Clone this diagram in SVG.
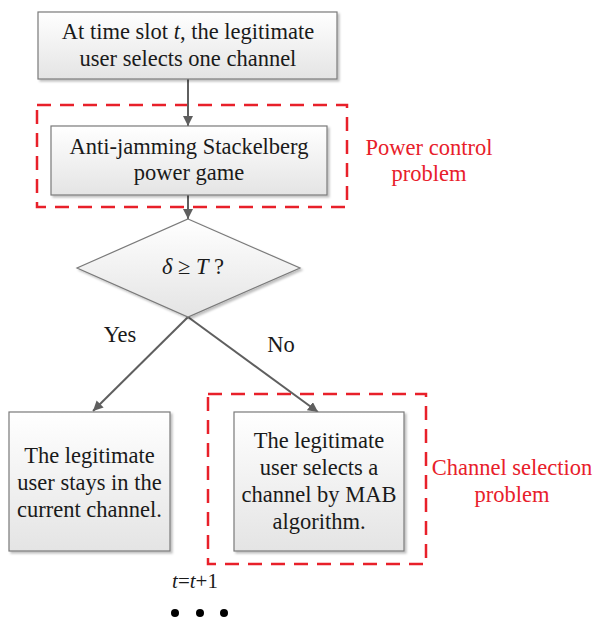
<svg xmlns="http://www.w3.org/2000/svg" width="595" height="619" viewBox="0 0 595 619" font-family="Liberation Serif, serif">
<defs>
<linearGradient id="g" x1="0" y1="0" x2="0" y2="1"><stop offset="0" stop-color="#ffffff"/><stop offset="1" stop-color="#e4e4e4"/></linearGradient>
<marker id="ah" viewBox="0 0 10 10" refX="10" refY="5" markerWidth="5" markerHeight="5" orient="auto" markerUnits="strokeWidth"><path d="M0,0 L10,5 L0,10 z" fill="#5f5f5f"/></marker>
<filter id="sh" x="-10%" y="-10%" width="130%" height="130%"><feDropShadow dx="2" dy="2" stdDeviation="1.2" flood-color="#000" flood-opacity="0.25"/></filter>
<style>
.box{fill:url(#g);stroke:#7a7a7a;stroke-width:1.2;filter:url(#sh)}
.t{font-size:22.5px;fill:#1a1a1a;text-anchor:middle}
.r{font-size:22.5px;fill:#e8202a;text-anchor:middle}
.dash{fill:none;stroke:#e8202a;stroke-width:2.5;stroke-dasharray:14,9}
.c{fill:none;stroke:#5f5f5f;stroke-width:2;marker-end:url(#ah)}
</style>
</defs>
<g id="region-power">
<rect class="dash" x="37" y="105" width="310" height="102"/>
<text class="r" x="429" y="155">Power control</text>
<text class="r" x="429" y="181">problem</text>
</g>
<g id="region-channel">
<rect class="dash" x="208" y="394" width="218" height="170"/>
<text class="r" x="512" y="475">Channel selection</text>
<text class="r" x="512" y="502">problem</text>
</g>
<g id="connectors">
<line class="c" x1="188" y1="79" x2="188" y2="126"/>
<line class="c" x1="188" y1="195" x2="188" y2="219"/>
<line class="c" x1="188" y1="317" x2="93" y2="411"/>
<line class="c" x1="188" y1="317" x2="318" y2="412"/>
<text class="t" x="120" y="342">Yes</text>
<text class="t" x="281" y="352">No</text>
</g>
<g id="start">
<rect class="box" x="38" y="12" width="299" height="67"/>
<text class="t" x="188" y="39">At time slot <tspan font-style="italic">t</tspan>, the legitimate</text>
<text class="t" x="188" y="66">user selects one channel</text>
</g>
<g id="game">
<rect class="box" x="51" y="126" width="276" height="69"/>
<text class="t" x="189" y="154">Anti-jamming Stackelberg</text>
<text class="t" x="189" y="180">power game</text>
</g>
<g id="decision">
<polygon class="box" points="188,219 300,268 188,317 77,268"/>
<text class="t" x="193" y="274"><tspan font-style="italic">δ</tspan> ≥ <tspan font-style="italic">T</tspan> ?</text>
</g>
<g id="stay">
<rect class="box" x="9" y="412" width="161" height="139"/>
<text class="t" x="89.5" y="463">The legitimate</text>
<text class="t" x="89.5" y="490">user stays in the</text>
<text class="t" x="89.5" y="517">current channel.</text>
</g>
<g id="select">
<rect class="box" x="234" y="412" width="170" height="139"/>
<text class="t" x="319" y="448">The legitimate</text>
<text class="t" x="319" y="475">user selects a</text>
<text class="t" x="319" y="502">channel by MAB</text>
<text class="t" x="319" y="529">algorithm.</text>
</g>
<g id="next">
<text class="t" x="195" y="588" style="font-size:21px"><tspan font-style="italic">t</tspan>=<tspan font-style="italic">t</tspan>+1</text>
<circle cx="175" cy="613" r="4" fill="#000"/>
<circle cx="200" cy="613" r="4" fill="#000"/>
<circle cx="224" cy="613" r="4" fill="#000"/>
</g>
</svg>
